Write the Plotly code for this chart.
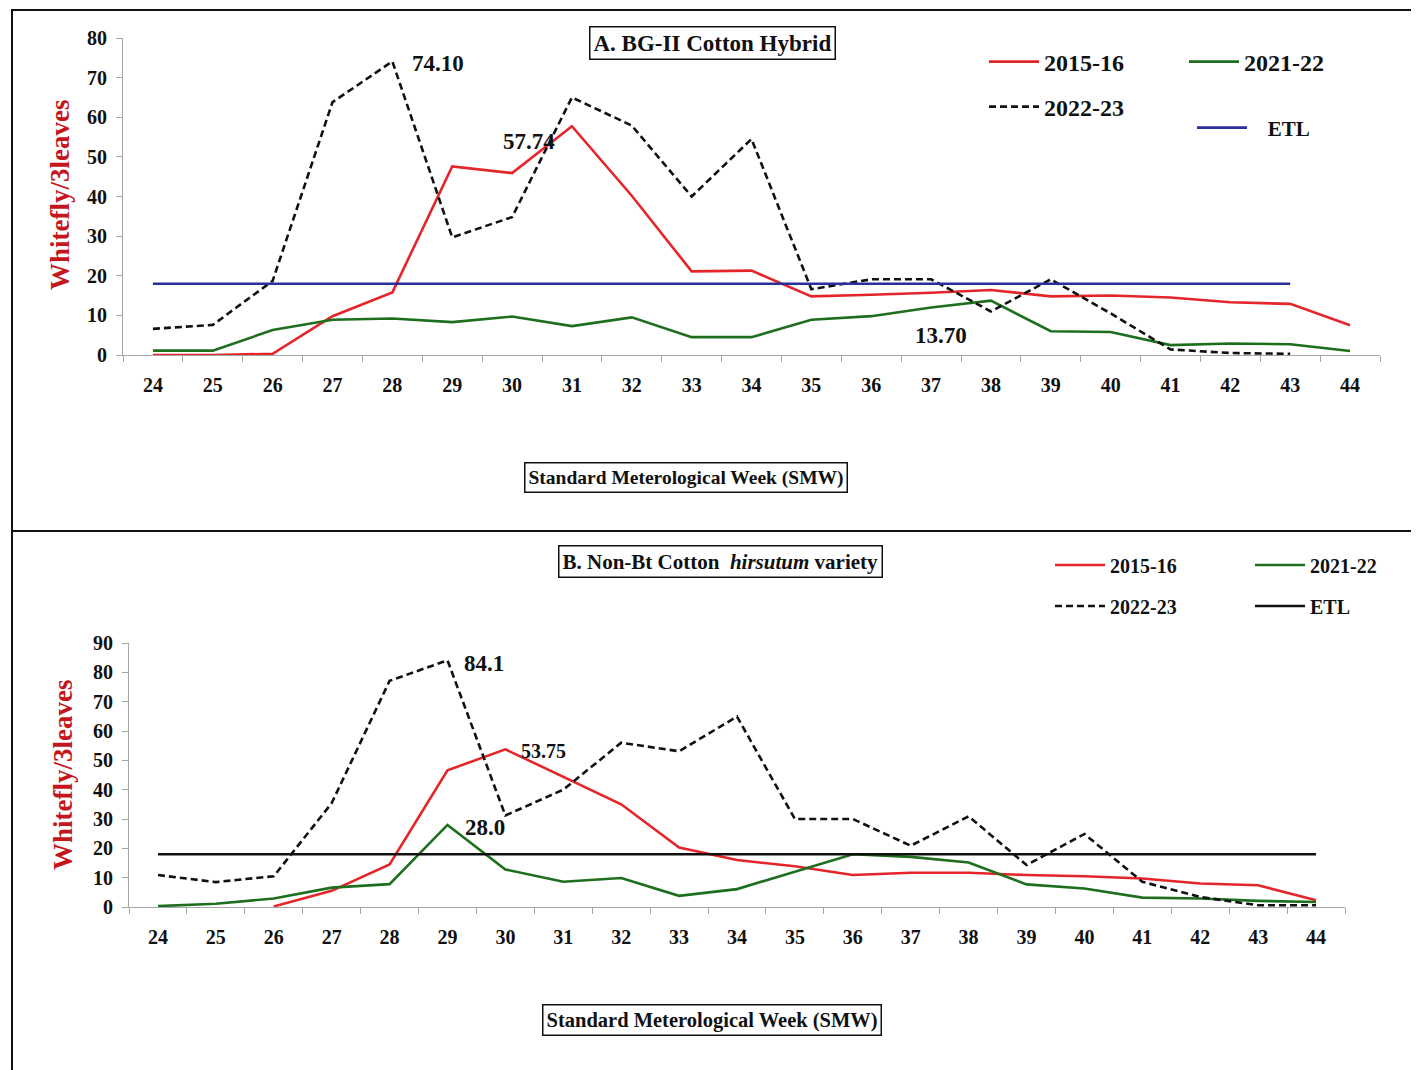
import plotly.graph_objects as go

# page offset (browser body margin) compensation
OFF = 8
FW, FH = 1411, 1062

weeks = list(range(24, 45))
week_labels = ["<b>%d</b>" % w for w in weeks]
a_yticks = list(range(0, 81, 10))
b_yticks = list(range(0, 91, 10))

# Panel A: BG-II Cotton Hybrid
a_2015_16 = [0, 0, 0.3, 9.8, 15.8, 47.6, 45.9, 57.74, 40.2, 21.1, 21.3,
             14.8, 15.2, 15.7, 16.4, 14.8, 15.0, 14.5, 13.3, 12.9, 7.5]
a_2021_22 = [1.1, 1.1, 6.3, 8.9, 9.2, 8.3, 9.7, 7.3, 9.5, 4.5, 4.5,
             8.9, 9.8, 12.0, 13.70, 6.0, 5.8, 2.5, 2.9, 2.7, 1.0]
a_2022_23 = [6.6, 7.6, 18.7, 63.8, 74.10, 29.7, 34.8, 65.0, 57.9, 40.0, 54.5,
             16.6, 19.1, 19.1, 11.0, 19.1, 10.5, 1.4, 0.5, 0.3, None]
a_etl = [18] * 20 + [None]

# Panel B: Non-Bt Cotton hirsutum variety
b_2015_16 = [None, None, 0.2, 5.5, 14.5, 46.6, 53.75, 44.5, 35.0, 20.3, 16.0,
             13.9, 10.9, 11.7, 11.7, 10.9, 10.5, 9.7, 8.0, 7.4, 2.3]
b_2021_22 = [0.3, 1.1, 2.9, 6.6, 7.8, 28.0, 12.8, 8.6, 9.9, 3.8, 6.1,
             12.0, 18.0, 17.1, 15.2, 7.7, 6.3, 3.2, 2.9, 2.1, 1.7]
b_2022_23 = [10.9, 8.5, 10.5, 35.4, 77.1, 84.1, 31.2, 40.0, 56.0, 53.1, 64.9,
             30.0, 30.0, 20.9, 30.9, 14.3, 24.9, 8.6, 3.4, 0.6, 0.6]
b_etl = [18] * 21

RED = "#e4262b"
GREEN = "#1d6f1d"
NAVY = "#2b2f9a"
BLACK = "#111111"
FONT = "Liberation Serif"
DASH = "7px,4px"

def px_x(p):
    return (p - OFF) / FW

def px_y(p):
    return 1 - (p - OFF) / FH

fig = go.Figure()

def add(x, y, name, color, dash, xa, ya, legend):
    fig.add_trace(go.Scatter(
        x=x, y=y, name="<b>%s</b>" % name, mode="lines", xaxis=xa, yaxis=ya,
        line=dict(color=color, width=2.6, dash=dash),
        legend=legend, connectgaps=False))

add(weeks, a_2015_16, "2015-16", RED, "solid", "x", "y", "legend")
add(weeks, a_2021_22, "2021-22", GREEN, "solid", "x", "y", "legend2")
add(weeks, a_2022_23, "2022-23", BLACK, DASH, "x", "y", "legend3")
add(weeks, a_etl, "   ETL", NAVY, "solid", "x", "y", "legend4")

add(weeks, b_2015_16, "2015-16", RED, "solid", "x2", "y2", "legend5")
add(weeks, b_2021_22, "2021-22", GREEN, "solid", "x2", "y2", "legend6")
add(weeks, b_2022_23, "2022-23", BLACK, DASH, "x2", "y2", "legend7")
add(weeks, b_etl, "ETL", BLACK, "solid", "x2", "y2", "legend8")

axis_common = dict(
    showgrid=False, zeroline=False, showline=True, linecolor="#a6a6a6",
    linewidth=1.2, automargin=False,
)

xcommon = dict(
    axis_common, range=[23.5, 44.5], tickmode="array", tickvals=weeks,
    ticktext=week_labels, ticks="", ticklabelstandoff=12,
    tickfont=dict(family=FONT, size=20, color="#111"),
    minor=dict(tickmode="linear", tick0=23.5, dtick=1, ticks="outside",
               ticklen=6, tickcolor="#a6a6a6", tickwidth=1),
)

def ycommon(vals):
    return dict(axis_common, tickmode="array", tickvals=vals,
                ticktext=["<b>%d</b>" % v for v in vals],
                ticks="outside", ticklen=6, tickcolor="#a6a6a6",
                ticklabelstandoff=5,
                tickfont=dict(family=FONT, size=20, color="#111"))

fig.update_layout(
    width=FW, height=FH,
    margin=dict(l=0, r=0, t=0, b=0, autoexpand=False),
    paper_bgcolor="white", plot_bgcolor="white",
    showlegend=True,
    xaxis=dict(xcommon, domain=[px_x(123), px_x(1380)], anchor="y"),
    yaxis=dict(ycommon(a_yticks), domain=[px_y(355), px_y(38)], range=[0, 80],
               anchor="x"),
    xaxis2=dict(xcommon, domain=[px_x(129), px_x(1345)], anchor="y2"),
    yaxis2=dict(ycommon(b_yticks), domain=[px_y(907), px_y(643)], range=[0, 90],
                anchor="x2"),
)

def leg(xp, yp, size):
    return dict(x=px_x(xp), y=px_y(yp), xanchor="left", yanchor="middle",
                bgcolor="rgba(0,0,0,0)", borderwidth=0, itemwidth=50,
                font=dict(family=FONT, size=size, color="#111"))

fig.update_layout(
    legend=leg(984, 62, 24),
    legend2=leg(1184, 62, 24),
    legend3=leg(984, 107, 24),
    legend4=leg(1192, 128, 21),
    legend5=leg(1050, 565, 20),
    legend6=leg(1250, 565, 20),
    legend7=leg(1050, 606, 20),
    legend8=leg(1250, 606, 20),
)

ann = []
def boxed(text, xp, yp, size):
    ann.append(dict(text=text, x=px_x(xp), y=px_y(yp), xref="paper", yref="paper",
                    showarrow=False, xanchor="center", yanchor="middle",
                    font=dict(family=FONT, size=size, color="#111"),
                    bordercolor="#111", borderwidth=1.5, borderpad=3,
                    bgcolor="white"))

boxed("<b>A. BG-II Cotton Hybrid</b>", 712, 43, 23)
boxed("<b>Standard Meterological Week (SMW)</b>", 686, 477, 19.5)
boxed("<b>B. Non-Bt Cotton  <i>hirsutum</i> variety</b>", 720, 561, 21)
boxed("<b>Standard Meterological Week (SMW)</b>", 712, 1020, 20.5)

for yp, xp in ((195, 60), (775, 63)):
    ann.append(dict(text="<b>Whitefly/3leaves</b>", x=px_x(xp), y=px_y(yp),
                    xref="paper", yref="paper", showarrow=False, textangle=-90,
                    xanchor="center", yanchor="middle",
                    font=dict(family=FONT, size=27, color="#c4161c")))

def label(text, x, y, xr, yr, size=23, xanchor="center"):
    ann.append(dict(text="<b>%s</b>" % text, x=x, y=y, xref=xr, yref=yr,
                    showarrow=False, xanchor=xanchor, yanchor="middle",
                    font=dict(family=FONT, size=size, color="#111")))

label("74.10", 28.3, 73.5, "x", "y", xanchor="left")
label("57.74", 30.28, 54.0, "x", "y")
label("13.70", 37.17, 4.8, "x", "y")
label("84.1", 29.25, 83.0, "x2", "y2", xanchor="left")
label("53.75", 30.65, 53.2, "x2", "y2", size=20)
label("28.0", 29.65, 27.0, "x2", "y2")

fig.update_layout(annotations=ann)

shapes = [
    dict(type="rect", xref="paper", yref="paper", x0=px_x(12), x1=px_x(1417),
         y0=px_y(531), y1=px_y(10), line=dict(color="#111", width=2)),
    dict(type="line", xref="paper", yref="paper", x0=px_x(12), x1=px_x(12),
         y0=px_y(531), y1=0, line=dict(color="#111", width=2)),
]
fig.update_layout(shapes=shapes)

fig.write_html("out.html")
